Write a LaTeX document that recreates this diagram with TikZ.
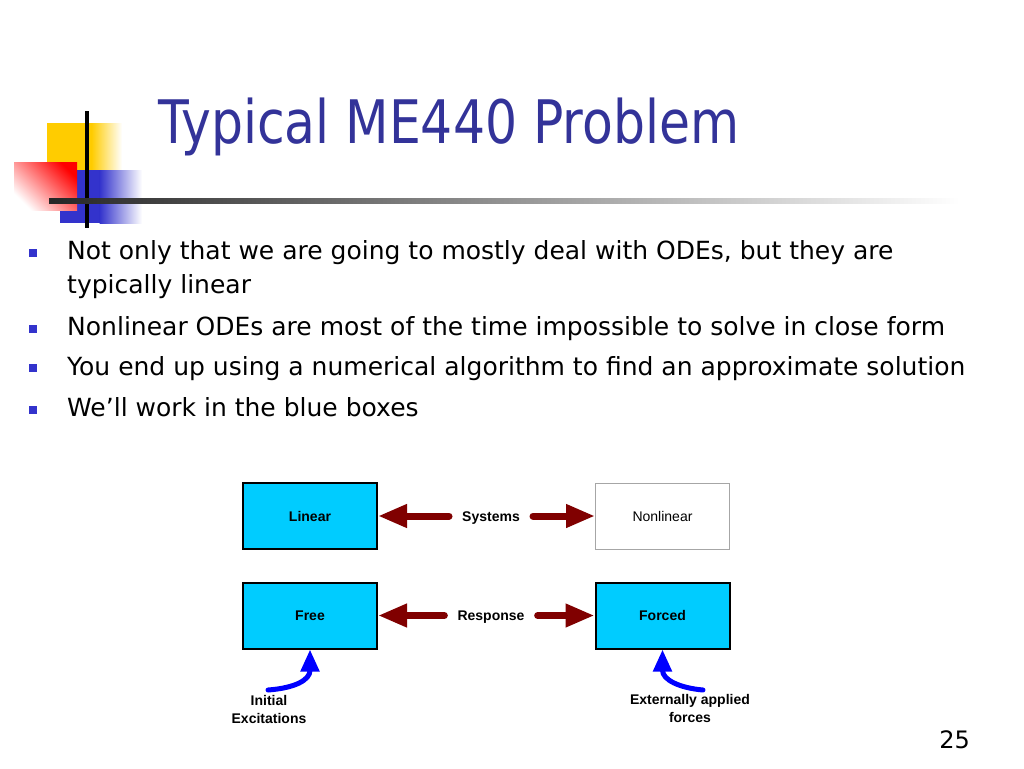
\documentclass[tikz,border=0pt]{standalone}
\usepackage{fontspec}
\setmainfont{Liberation Sans}
\newfontfamily\slidefont{DejaVu Sans}
\newfontfamily\titlefont[FakeStretch=0.84]{DejaVu Sans}
\usetikzlibrary{arrows.meta}
\definecolor{titleblue}{HTML}{333399}
\definecolor{bulletblue}{HTML}{3333CC}
\definecolor{boxcyan}{HTML}{00CCFF}
\definecolor{darkred}{HTML}{800000}
\definecolor{logoyellow}{HTML}{FFCC00}
\definecolor{logored}{HTML}{FF0000}
\begin{document}
\begin{tikzpicture}[x=1pt,y=-1pt,
    bluebox/.style={draw=black,line width=2pt,fill=boxcyan,minimum width=134pt,minimum height=66pt,font=\fontsize{14}{16}\selectfont\bfseries},
    whitebox/.style={draw=black!35,line width=1pt,fill=white,minimum width=134pt,minimum height=66pt,font=\fontsize{14}{16}\selectfont},
    midlabel/.style={font=\fontsize{14}{16}\selectfont\bfseries,inner xsep=13pt,text height=13pt,text depth=3pt},
    note/.style={font=\fontsize{14}{18}\selectfont\bfseries,align=center},
    redarrow/.style={draw=darkred,line width=7pt,line cap=round,-{Triangle[length=29pt,width=22pt]}},
    bluearrow/.style={draw=blue,line width=5pt,line cap=round,-{Triangle[length=22pt,width=18pt]}},
    bullettext/.style={anchor=base west,inner sep=0pt,align=left,font=\slidefont\fontsize{25}{34}\selectfont}]
    \useasboundingbox (0,0) rectangle (1024,768);
    \fill[white] (0,0) rectangle (1024,768);

    % logo
    \fill[logoyellow] (47,123) rectangle (92,170);
    \shade[left color=logoyellow,right color=white] (91.5,123) rectangle (122,170);
    \fill[bulletblue] (60,170) rectangle (100,223);
    \shade[left color=bulletblue,right color=white] (99.5,170) rectangle (142,223);
    \shade[top color=logored,bottom color=white,shading angle=-45] (14,162) rectangle (77,210);
    \draw[black,line width=4pt] (87,111) -- (87,228);
    \shade[left color=black!85,middle color=black!30,right color=white] (49,198.5) rectangle (960,203.5);

    \node[anchor=base west,inner sep=0pt,text=titleblue,font=\titlefont\fontsize{60}{60}\selectfont] (title) at (158,143) {Typical ME440 Problem};

    % bullets
    \foreach \y in {253,329,368,410}
      \fill[bulletblue] (29,\y-4) rectangle (37,\y+4);
    \node[bullettext] (b1) at (67,293) {Not only that we are going to mostly deal with ODEs, but they are\\typically linear};
    \node[bullettext] (b2) at (67,335) {Nonlinear ODEs are most of the time impossible to solve in close form};
    \node[bullettext] (b3) at (67,375) {You end up using a numerical algorithm to find an approximate solution};
    \node[bullettext] (b4) at (67,416) {We’ll work in the blue boxes};

    % diagram
    \node[bluebox] (lin) at (310,516) {Linear};
    \node[whitebox] (nonlin) at (662.5,516) {Nonlinear};
    \node[bluebox] (free) at (310,615.5) {Free};
    \node[bluebox] (forced) at (662.5,615.5) {Forced};
    \node[midlabel] (sys) at (491,516) {Systems};
    \node[midlabel] (resp) at (491,615.5) {Response};
    \draw[redarrow] (sys) -- (lin);
    \draw[redarrow] (sys) -- (nonlin);
    \draw[redarrow] (resp) -- (free);
    \draw[redarrow] (resp) -- (forced);

    \coordinate (initc) at (268,690);
    \coordinate (extc) at (703,690);
    \draw[bluearrow] (initc) .. controls (295,688) and (310,680) .. (free.south);
    \draw[bluearrow] (extc) .. controls (680,688) and (662.5,680) .. (forced.south);
    \node[note] (initlab) at (269,709) {Initial\\Excitations};
    \node[note] (extlab) at (690,708) {Externally applied\\forces};

    \node[anchor=base east,inner sep=0pt,font=\slidefont\fontsize{24}{24}\selectfont] (pagenum) at (970,748) {25};
  \end{tikzpicture}
\end{document}
